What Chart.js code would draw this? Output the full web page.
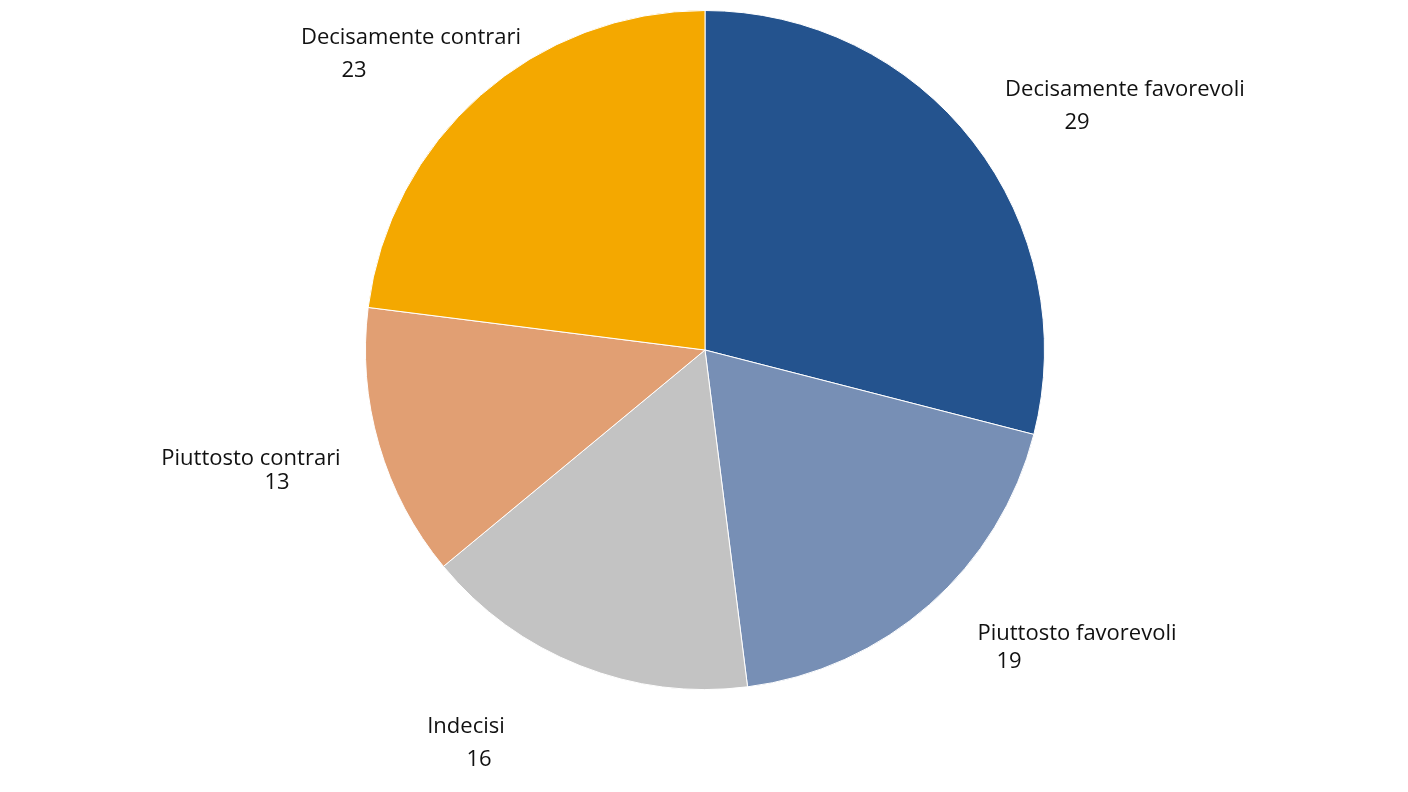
<!DOCTYPE html><html><head><meta charset="utf-8">
<script src="https://cdn.jsdelivr.net/npm/chart.js@4/dist/chart.umd.min.js"></script>
<style>html,body{margin:0;padding:0;background:#fff}#w{width:1408px;height:792px}</style></head><body><div id="w"><canvas id="c"></canvas></div>
<script>
const categories=["Decisamente favorevoli","Piuttosto favorevoli","Indecisi","Piuttosto contrari","Decisamente contrari"];
const values=[29,19,16,13,23];
const colors=["#24538e","#778fb5","#c3c3c3","#e19f73","#f4a800"];
const labelPos=[[1125,90,1077,123],[1077,634,1009,662],[466,727,479,760],[251,459,277,483],[411,38,354,71]];
const labelsPlugin={id:'lbl',afterDraw(ch){const x=ch.ctx;x.save();x.font='22px "Open Sans", sans-serif';x.fillStyle='#111';x.textAlign='center';x.textBaseline='middle';
categories.forEach((c,i)=>{const p=labelPos[i];x.fillText(c,p[0],p[1]);x.fillText(String(values[i]),p[2],p[3]);});x.restore();}};
new Chart(document.getElementById('c'),{type:'pie',data:{labels:categories,datasets:[{data:values,backgroundColor:colors,borderColor:'#fff',borderWidth:1}]},
options:{responsive:true,maintainAspectRatio:false,animation:false,layout:{padding:{top:10,bottom:102,left:365,right:363}},plugins:{legend:{display:false},tooltip:{enabled:false}}},plugins:[labelsPlugin]});
</script></body></html>
